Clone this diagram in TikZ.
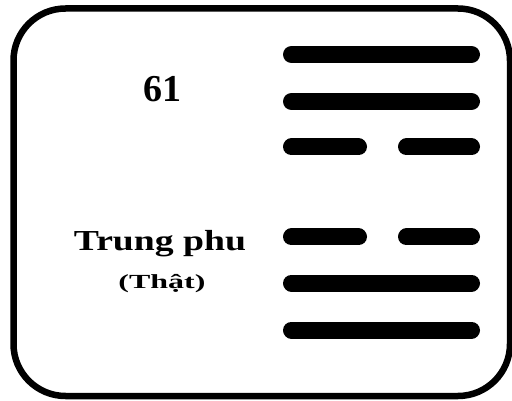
\documentclass[tikz,border=0pt]{standalone}
\usepackage{fontspec}
\setmainfont{Liberation Serif}
\usepackage{tikz}

\begin{document}
\begin{tikzpicture}[
    x=1pt, y=-1pt,
    frame/.style={
        draw,
        line width=6.5pt,
        rounded corners=52pt
    },
    bar/.style={line width=17pt, line cap=round},
    numtext/.style={font=\bfseries\fontsize{38}{40}\selectfont, inner sep=0pt},
    nametext/.style={font=\bfseries\fontsize{29}{31}\selectfont, inner sep=0pt, xscale=1.3},
    meantext/.style={font=\bfseries\fontsize{20}{22}\selectfont, inner sep=0pt, xscale=1.6}
]

\useasboundingbox (0,0) rectangle (512,401);

\draw[frame] (13.5,8.5) rectangle (510,396);

\node[numtext] (number) at (162,89) {61};
\node[nametext] (trung) at (160,243.5) {Trung phu};
\node[meantext] (that) at (162,284) {(Thật)};

% solid lines
\draw[bar] (291.5,54.5) -- (471.5,54.5);
\draw[bar] (291.5,101.5) -- (471.5,101.5);
\draw[bar] (291.5,283) -- (471.5,283);
\draw[bar] (291.5,330) -- (471.5,330);

% broken lines
\draw[bar] (291.5,147) -- (358.5,147);
\draw[bar] (406.5,147) -- (471.5,147);
\draw[bar] (291.5,237) -- (358.5,237);
\draw[bar] (406.5,237) -- (471.5,237);

\end{tikzpicture}
\end{document}
